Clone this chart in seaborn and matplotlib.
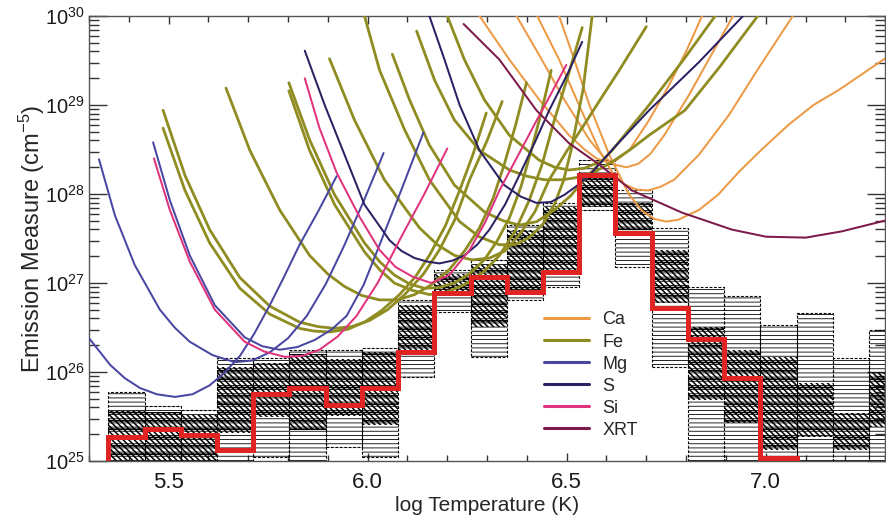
"""
DEM reconstruction: EM loci curves, Monte Carlo spread and best-fit DEM
"""

import numpy as np
import pandas as pd
import matplotlib
matplotlib.use("Agg")
import matplotlib.pyplot as plt
import seaborn as sns
from matplotlib.lines import Line2D
from matplotlib.ticker import MultipleLocator

# ---- EM loci curves (log T, log10 EM) ----
ca_t = [[6.281, 6.356, 6.431, 6.506, 6.545, 6.575, 6.600, 6.625, 6.657, 6.707, 6.757, 6.802, 6.840],
        [6.374, 6.431, 6.494, 6.557, 6.590, 6.620, 6.650, 6.680, 6.710, 6.745, 6.807, 6.863, 6.918],
        [6.426, 6.481, 6.531, 6.582, 6.615, 6.645, 6.675, 6.705, 6.735, 6.770, 6.832, 6.908, 6.983, 7.068],
        [6.481, 6.519, 6.557, 6.607, 6.657, 6.690, 6.720, 6.750, 6.780, 6.832, 6.880, 6.933, 6.990,
         7.058, 7.120, 7.184, 7.299]]
ca_em = [[30.00, 29.51, 29.06, 28.66, 28.50, 28.40, 28.36, 28.38, 28.49, 28.83, 29.22, 29.62, 30.00],
         [30.00, 29.56, 29.06, 28.61, 28.43, 28.33, 28.30, 28.34, 28.45, 28.66, 29.11, 29.56, 30.00],
         [30.00, 29.51, 29.00, 28.49, 28.24, 28.11, 28.05, 28.04, 28.08, 28.16, 28.44, 28.89, 29.42, 30.00],
         [30.00, 29.51, 29.00, 28.44, 27.99, 27.81, 27.72, 27.69, 27.71, 27.82, 27.99, 28.25, 28.50,
          28.78, 29.00, 29.17, 29.52]]

fe_t = [[5.486, 5.541, 5.603, 5.679, 5.754, 5.829, 5.875, 5.917, 5.960, 6.005, 6.050, 6.093, 6.140,
         6.180, 6.220, 6.256, 6.300, 6.338],
        [5.486, 5.541, 5.603, 5.679, 5.754, 5.829, 5.865, 5.904, 5.950, 5.992, 6.035, 6.080, 6.120,
         6.155, 6.195, 6.231, 6.265, 6.298],
        [5.644, 5.704, 5.779, 5.854, 5.900, 5.942, 5.985, 6.030, 6.075, 6.118, 6.160, 6.205, 6.245,
         6.281, 6.315, 6.343, 6.372, 6.399],
        [5.802, 5.854, 5.917, 5.992, 6.030, 6.067, 6.105, 6.143, 6.180, 6.218, 6.255, 6.293, 6.325,
         6.356, 6.385, 6.411, 6.437, 6.461],
        [5.802, 5.854, 5.917, 5.992, 6.030, 6.067, 6.110, 6.155, 6.200, 6.243, 6.290, 6.331, 6.370,
         6.406, 6.438, 6.469, 6.505, 6.539],
        [5.904, 5.967, 6.042, 6.130, 6.175, 6.218, 6.262, 6.306, 6.345, 6.381, 6.420, 6.456, 6.500,
         6.547, 6.590, 6.632, 6.700],
        [5.992, 6.030, 6.093, 6.155, 6.231, 6.280, 6.331, 6.370, 6.406, 6.440, 6.469, 6.492, 6.511,
         6.541, 6.564],
        [6.062, 6.105, 6.155, 6.218, 6.293, 6.340, 6.381, 6.425, 6.469, 6.510, 6.544, 6.614, 6.707,
         6.797, 6.873],
        [6.123, 6.168, 6.218, 6.281, 6.356, 6.400, 6.444, 6.490, 6.532, 6.575, 6.614, 6.660, 6.707,
         6.797, 6.883, 6.980],
        [6.200, 6.243, 6.293, 6.356, 6.431, 6.470, 6.506, 6.545, 6.582]]
fe_em = [[28.94, 28.21, 27.60, 27.06, 26.74, 26.56, 26.51, 26.49, 26.51, 26.58, 26.70, 26.87, 27.10,
          27.37, 27.72, 28.16, 28.60, 29.04],
         [28.74, 28.04, 27.45, 26.94, 26.65, 26.49, 26.46, 26.45, 26.48, 26.56, 26.69, 26.87, 27.07,
          27.31, 27.64, 28.04, 28.45, 28.91],
         [29.19, 28.49, 27.82, 27.31, 27.10, 26.96, 26.86, 26.81, 26.81, 26.87, 26.98, 27.15, 27.37,
          27.62, 27.95, 28.33, 28.78, 29.25],
         [29.25, 28.61, 27.99, 27.45, 27.24, 27.09, 26.99, 26.94, 26.95, 27.00, 27.10, 27.26, 27.47,
          27.73, 28.08, 28.49, 28.93, 29.39],
         [29.16, 28.49, 27.88, 27.35, 27.15, 27.00, 26.92, 26.87, 26.90, 26.98, 27.12, 27.31, 27.58,
          27.93, 28.33, 28.83, 29.35, 29.87],
         [29.52, 28.83, 28.16, 27.62, 27.43, 27.31, 27.26, 27.28, 27.36, 27.54, 27.80, 28.16, 28.48,
          28.80, 29.10, 29.39, 29.88],
         [30.00, 29.39, 28.72, 28.16, 27.69, 27.52, 27.43, 27.43, 27.51, 27.66, 27.88, 28.15, 28.49,
          29.17, 30.00],
         [29.57, 29.06, 28.55, 28.10, 27.80, 27.70, 27.65, 27.69, 27.82, 27.98, 28.16, 28.49, 29.00,
          29.53, 30.00],
         [29.83, 29.28, 28.83, 28.49, 28.27, 28.20, 28.16, 28.16, 28.19, 28.26, 28.36, 28.50, 28.66,
          28.94, 29.42, 30.00],
         [30.00, 29.51, 29.06, 28.66, 28.38, 28.30, 28.27, 28.29, 28.36]]

mg_t = [[5.300, 5.353, 5.390, 5.428, 5.470, 5.516, 5.560, 5.603, 5.640, 5.679, 5.715, 5.754, 5.790,
         5.829, 5.875, 5.922],
        [5.325, 5.365, 5.415, 5.478, 5.515, 5.553, 5.610, 5.666, 5.710, 5.754, 5.800, 5.847, 5.895,
         5.942, 5.990, 6.040],
        [5.461, 5.503, 5.553, 5.616, 5.691, 5.735, 5.779, 5.823, 5.867, 5.910, 5.947, 5.990, 6.030,
         6.085, 6.140]]
mg_em = [[26.38, 26.08, 25.93, 25.82, 25.75, 25.72, 25.75, 25.85, 25.99, 26.18, 26.43, 26.75, 27.07,
          27.43, 27.80, 28.20],
         [28.39, 27.76, 27.20, 26.70, 26.50, 26.34, 26.19, 26.11, 26.13, 26.22, 26.38, 26.63, 26.99,
          27.43, 27.92, 28.46],
         [28.58, 27.93, 27.31, 26.75, 26.39, 26.29, 26.25, 26.28, 26.36, 26.48, 26.63, 26.98, 27.43,
          28.05, 28.69]]

s_t = [[5.842, 5.892, 5.942, 5.992, 6.055, 6.085, 6.118, 6.150, 6.180, 6.212, 6.243, 6.275, 6.306,
        6.345, 6.381, 6.420, 6.456, 6.500, 6.539],
       [6.155, 6.193, 6.231, 6.281, 6.343, 6.385, 6.424, 6.460, 6.494, 6.525, 6.557, 6.619, 6.707,
        6.832, 6.943]]
s_em = [[29.61, 29.00, 28.44, 27.88, 27.48, 27.36, 27.28, 27.24, 27.22, 27.25, 27.31, 27.43, 27.60,
         27.88, 28.21, 28.58, 28.94, 29.33, 29.71],
        [30.00, 29.51, 29.00, 28.49, 28.10, 27.97, 27.90, 27.91, 27.99, 28.09, 28.21, 28.52, 28.94,
         29.48, 30.00]]

si_t = [[5.463, 5.503, 5.553, 5.616, 5.691, 5.740, 5.792, 5.835, 5.879, 5.925, 5.972, 6.025, 6.080,
         6.140, 6.200],
        [5.842, 5.879, 5.922, 5.980, 6.030, 6.070, 6.113, 6.160, 6.205, 6.256, 6.295, 6.331, 6.375,
         6.419, 6.460, 6.499]]
si_em = [[28.40, 27.82, 27.24, 26.70, 26.34, 26.23, 26.17, 26.18, 26.25, 26.40, 26.63, 27.00, 27.48,
          27.98, 28.51],
         [29.30, 28.74, 28.24, 27.74, 27.37, 27.18, 27.07, 27.00, 27.09, 27.37, 27.68, 28.04, 28.41,
          28.78, 29.12, 29.45]]

xrt_t = [[6.241, 6.331, 6.424, 6.506, 6.582, 6.664, 6.790, 6.915, 7.001, 7.101, 7.191, 7.299]]
xrt_em = [[29.91, 29.51, 28.94, 28.57, 28.33, 28.04, 27.79, 27.60, 27.52, 27.51, 27.58, 27.70]]

# ---- Monte Carlo spread per temperature bin (log10 EM) ----
bin_t = [5.394, 5.485, 5.576, 5.667, 5.758, 5.849, 5.940, 6.031, 6.122, 6.213, 6.304,
         6.395, 6.486, 6.577, 6.668, 6.759, 6.850, 6.941, 7.032, 7.123, 7.214, 7.305]
mc_top = [25.78, 25.62, 25.57, 26.16, 26.16, 26.25, 26.25, 26.27, 26.81, 27.15, 27.26,
          27.65, 27.90, 28.38, 28.04, 27.62, 26.96, 26.85, 26.53, 26.66, 26.16, 26.47]
mc_bot = [24.9, 24.9, 24.9, 24.9, 25.05, 24.9, 25.16, 25.04, 25.94, 26.67, 26.17,
          26.81, 26.96, 27.82, 27.18, 26.06, 24.9, 24.9, 24.9, 24.9, 24.9, 24.9]
core_top = [25.56, 25.55, 25.52, 26.06, 26.10, 26.20, 26.15, 26.22, 26.75, 27.10, 27.20,
            27.60, 27.85, 28.24, 27.90, 27.37, 26.51, 26.25, 26.17, 25.88, 25.54, 25.99]
core_bot = [24.9, 24.9, 24.9, 25.31, 25.49, 25.35, 25.50, 25.40, 26.25, 26.85, 26.50,
            26.92, 27.11, 27.85, 27.60, 26.78, 25.69, 25.43, 25.12, 25.27, 25.12, 25.38]
bin_w = 0.091

# best-fit DEM (red steps), first 19 bins
dem_best = [25.27, 25.36, 25.29, 25.12, 25.75, 25.82, 25.63, 25.82, 26.22, 26.89,
            27.07, 26.90, 27.12, 28.21, 27.56, 26.72, 26.37, 25.93, 25.03]

elements = ["Ca", "Fe", "Mg", "S", "Si", "XRT"]
colors = {"Ca": "#ec9a45", "Fe": "#8f8c22", "Mg": "#4a47a3",
          "S": "#2b2163", "Si": "#e0337e", "XRT": "#7d1a4c"}
curves_t = {"Ca": ca_t, "Fe": fe_t, "Mg": mg_t, "S": s_t, "Si": si_t, "XRT": xrt_t}
curves_em = {"Ca": ca_em, "Fe": fe_em, "Mg": mg_em, "S": s_em, "Si": si_em, "XRT": xrt_em}

rows = []
for el in elements:
    for i, (tt, ee) in enumerate(zip(curves_t[el], curves_em[el])):
        for t, e in zip(tt, ee):
            rows.append((el, f"{el}{i}", t, 10.0 ** e))
loci = pd.DataFrame(rows, columns=["element", "curve", "logT", "EM"])

sns.set_style("ticks")
plt.rcParams["font.family"] = ["Liberation Sans", "DejaVu Sans"]
plt.rcParams["mathtext.fontset"] = "custom"
plt.rcParams["mathtext.rm"] = "Liberation Sans"
plt.rcParams["mathtext.it"] = "Liberation Sans:italic"

fig = plt.figure(figsize=(8.86, 5.16), dpi=100)
ax = fig.add_axes([0.1005, 0.1066, 0.8985, 0.8624])
ax.set_yscale("log")

# Monte Carlo spread: dashed outer boxes and dense core
plt.rcParams["hatch.linewidth"] = 0.6
top = 10.0 ** np.array(mc_top)
bot = 10.0 ** np.array(mc_bot)
ax.bar(bin_t, top - bot, bottom=bot, width=bin_w, facecolor="none", edgecolor="black",
       linewidth=0.8, linestyle=(0, (2.5, 1.5)), hatch="----", zorder=1)
plt.rcParams["hatch.linewidth"] = 1.1
ctop = 10.0 ** np.array(core_top)
cbot = 10.0 ** np.array(core_bot)
ax.bar(bin_t, ctop - cbot, bottom=cbot, width=bin_w, facecolor="none", edgecolor="black",
       linewidth=0, hatch="\\\\\\\\\\\\--", zorder=1)

# EM loci
for el in elements:
    sns.lineplot(data=loci[loci.element == el], x="logT", y="EM", units="curve",
                 estimator=None, sort=False, color=colors[el],
                 linewidth=2.0 if el == "Fe" else 1.45, ax=ax, zorder=3)

# best-fit DEM
edges = np.append(np.array(bin_t[:len(dem_best)]) - bin_w / 2, bin_t[len(dem_best) - 1] + bin_w / 2)
ax.stairs(10.0 ** np.array(dem_best), edges, baseline=1e25, color="#e02424",
          linewidth=3.6, zorder=5)

ax.set_xlim(5.3, 7.3)
ax.set_ylim(1e25, 1e30)
ax.set_xticks([5.5, 6.0, 6.5, 7.0])
ax.xaxis.set_minor_locator(MultipleLocator(0.1))
ax.tick_params(which="both", direction="in", top=True, right=True, width=1, colors="#333333",
               labelcolor="#1a1a1a")
ax.tick_params(axis="x", which="major", length=6, labelsize=16, pad=8)
ax.tick_params(axis="x", which="minor", length=4)
ax.tick_params(axis="y", which="major", length=13, labelsize=14.5, pad=3)
ax.tick_params(axis="y", which="minor", length=7)
for sp in ax.spines.values():
    sp.set_color("#555555")
    sp.set_linewidth(1)

ax.set_xlabel("log Temperature (K)", fontsize=15, labelpad=2)
ax.set_ylabel("Emission Measure (cm$^{-5}$)", fontsize=17, labelpad=-1)

handles = [Line2D([], [], color=colors[el], linewidth=2.2) for el in elements]
ax.legend(handles, elements, loc="upper left", bbox_to_anchor=(0.571, 0.336), frameon=False,
          fontsize=13, handlelength=2.5, handletextpad=0.75, labelspacing=0.28,
          borderpad=0, borderaxespad=0)

plt.savefig("out.png", dpi=100)
plt.close()
